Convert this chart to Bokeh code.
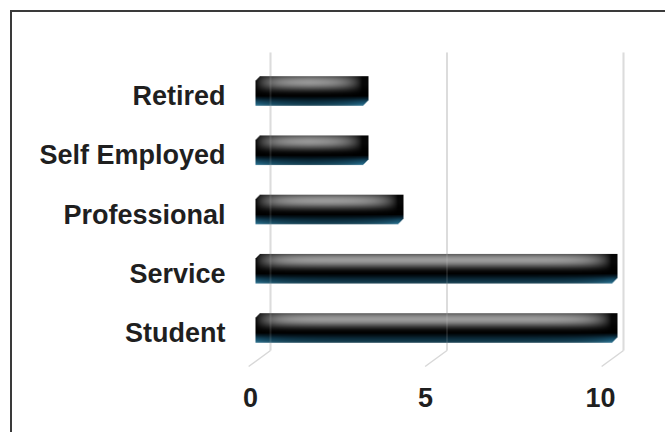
import numpy as np
from bokeh.plotting import figure
from bokeh.models import Range1d, LinearAxis, FixedTicker
from bokeh.embed import file_html
from bokeh.resources import INLINE

# ---------------- data ----------------
categories = ["Student", "Service", "Professional", "Self Employed", "Retired"]
values = [10, 10, 4, 3, 3]
x_ticks = [0, 5, 10]

# ---------------- geometry (page pixels) ----------------
PAGE_W, PAGE_H = 667, 434
OX, OY = 12, 12                              # figure offset (outer frame border at left / top)
WIDTH, HEIGHT = PAGE_W - OX, PAGE_H - OY
FL, FR, FT, FB = 240, 655, 40, 370           # plot frame, page px
BAR_PPU, BAR_X0 = 35.6, 255                  # bar plane: px per unit, px of value 0
FRONT_PPU, FRONT_X0 = 35.0, 250              # front (axis) plane
BACK_PPU, BACK_X0 = 35.3, 270                # back wall (grid) plane
CAT_PX0, CAT_STEP = 327.5, 59.25             # px of first category centre, px between categories
LABEL_DY = 5                                 # front plane lies lower than bar plane
BAR_H = 0.5                                  # bar thickness in category units
SIDE_PX = 6                                  # visible side face of the 3D bars


def xr(x0, ppu):
    return Range1d((FL - x0) / ppu, (FR - x0) / ppu)


def yr(c0):
    return Range1d(1 - (FB - c0) / CAT_STEP, 1 + (c0 - FT) / CAT_STEP)


p = figure(width=WIDTH, height=HEIGHT, output_backend="svg", toolbar_location=None,
           x_range=xr(BAR_X0, BAR_PPU), y_range=yr(CAT_PX0),
           x_axis_location=None, y_axis_location=None, title=None,
           min_border_left=FL - OX, min_border_right=PAGE_W - FR,
           min_border_top=FT - OY, min_border_bottom=PAGE_H - FB,
           background_fill_color="white", border_fill_color="white")
p.outline_line_color = None
p.grid.visible = False
p.extra_x_ranges = {"front": xr(FRONT_X0, FRONT_PPU), "back": xr(BACK_X0, BACK_PPU)}
p.extra_y_ranges = {"fronty": yr(CAT_PX0 + LABEL_DY)}
p.styles = {"margin-left": "10px", "margin-top": "10px",
            "border-left": "2px solid #3a3a3a", "border-top": "2px solid #3a3a3a"}

# ---------------- back wall grid + floor lines ----------------
n = len(categories)
grid_top = n + 0.65
grid_bot = 1 - 0.38
floor_front = 1 - 0.65
nt = len(x_ticks)
p.segment(x0=x_ticks, y0=[grid_bot] * nt, x1=x_ticks, y1=[grid_top] * nt,
          x_range_name="back", line_color="#dcdcdc", line_width=2)
p.segment(x0=x_ticks, y0=[grid_bot] * nt, x1=[t - 0.62 for t in x_ticks], y1=[floor_front] * nt,
          x_range_name="back", line_color="#d8d8d8", line_width=1.5)

# ---------------- glossy bar textures ----------------
gray_prof = [200, 100, 115, 130, 142, 150, 155, 155, 150, 140, 126, 110, 92, 74, 56, 40, 26, 15, 8, 4, 2]
blue_prof = [(4, 14, 20), (6, 24, 34), (10, 36, 50), (14, 50, 68), (18, 62, 84),
             (22, 72, 96), (26, 82, 108), (32, 92, 118), (60, 115, 140)]


def texture(v):
    front_w = v * BAR_PPU
    wpx = int(round(front_w + SIDE_PX))
    hpx = len(gray_prof) + len(blue_prof)
    img = np.zeros((hpx, wpx, 4), dtype=np.float64)
    c = np.arange(wpx) + 0.5
    d = np.clip(np.minimum(c, front_w - c), 0, None)
    gf = 1 - 0.95 * np.exp(-d / 15.0)
    bf = 0.65 + 0.45 * np.exp(-d / 22.0)
    for r, g in enumerate(gray_prof):
        val = g * (gf if r > 0 else (1 - 0.5 * np.exp(-d / 13.0)))
        img[r, :, 0] = val
        img[r, :, 1] = val
        img[r, :, 2] = val
    for i, (rr, gg, bb) in enumerate(blue_prof):
        r = len(gray_prof) + i
        img[r, :, 0] = rr * bf
        img[r, :, 1] = gg * bf
        img[r, :, 2] = bb * bf
    img[:, :, :3] = np.clip(img[:, :, :3], 0, 255)
    rows = np.arange(hpx)[:, None]
    cols = np.arange(wpx)[None, :]
    ch = 5
    a1 = np.clip(rows + cols - ch + 1.0, 0, 1)
    a2 = np.clip((wpx - 1 - cols) + (hpx - 1 - rows) - ch + 1.0, 0, 1)
    img[:, :, 3] = 255 * a1 * a2
    out = np.ascontiguousarray(np.flipud(img).astype(np.uint8))
    return out.view(dtype=np.uint32).reshape((hpx, wpx)), wpx


imgs, xs, ys, dws, dhs = [], [], [], [], []
for i, v in enumerate(values):
    t, wpx = texture(v)
    imgs.append(t)
    xs.append(0)
    ys.append(i + 1 - BAR_H / 2)
    dws.append(wpx / BAR_PPU)
    dhs.append(BAR_H)
p.image_rgba(image=imgs, x=xs, y=ys, dw=dws, dh=dhs)

# faint grid showing through the bars
p.segment(x0=x_ticks, y0=[grid_bot] * nt, x1=x_ticks, y1=[grid_top] * nt,
          x_range_name="back", line_color="#dcdcdc", line_width=2, line_alpha=0.12)

# ---------------- axes ----------------
font = "Liberation Sans"
xaxis = LinearAxis(x_range_name="front", ticker=FixedTicker(ticks=x_ticks))
yaxis = LinearAxis(y_range_name="fronty", ticker=FixedTicker(ticks=list(range(1, n + 1))),
                   major_label_overrides={i + 1: c for i, c in enumerate(categories)})
for ax in (xaxis, yaxis):
    ax.axis_line_color = None
    ax.major_tick_line_color = None
    ax.minor_tick_line_color = None
    ax.major_tick_out = 0
    ax.major_tick_in = 0
    ax.minor_tick_out = 0
    ax.minor_tick_in = 0
    ax.major_label_text_font = font
    ax.major_label_text_font_style = "bold"
    ax.major_label_text_font_size = "27px"
    ax.major_label_text_color = "#1f1f1f"
xaxis.major_label_standoff = 17
yaxis.major_label_standoff = 15
p.add_layout(xaxis, "below")
p.add_layout(yaxis, "left")

open("out.html", "w").write(file_html(p, INLINE))
